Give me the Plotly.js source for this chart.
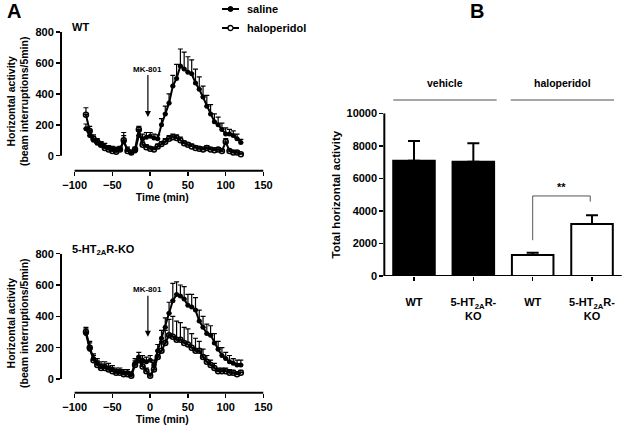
<!DOCTYPE html>
<html><head><meta charset="utf-8">
<script src="https://cdn.plot.ly/plotly-3.0.1.min.js"></script>
<style>html,body{margin:0;padding:0;background:#fff}#c{width:629px;height:433px}</style>
</head><body><div id="c"></div>
<script>
const time = [-85,-80,-75,-70,-65,-60,-55,-50,-45,-40,-35,-30,-25,-20,-15,-10,-5,0,5,10,15,20,25,30,35,40,45,50,55,60,65,70,75,80,85,90,95,100,105,110,115,120];

const wtSaline = [175,130,100,80,70,60,50,45,40,45,90,40,20,30,130,110,120,125,115,110,200,270,340,450,500,580,560,540,530,470,430,380,320,270,220,200,170,140,140,130,110,85];
const wtSalineErr = [30,30,25,20,20,20,15,15,15,15,40,15,10,15,30,30,30,25,25,25,40,50,60,70,90,110,110,100,90,90,80,70,70,60,50,50,40,40,30,30,30,20];
const wtHalo = [265,160,110,90,70,50,40,30,25,40,100,30,20,40,170,70,55,45,40,60,75,90,110,120,115,100,80,70,60,50,45,40,50,40,35,40,30,90,30,20,20,10];
const wtHaloErr = [45,30,25,20,20,15,15,10,10,15,50,10,10,15,20,20,15,10,10,15,15,20,20,20,20,20,15,15,15,15,10,10,15,10,10,10,10,20,10,10,10,5];

const koSaline = [290,190,130,100,80,80,70,60,50,50,40,40,30,100,140,120,110,120,90,180,260,330,420,500,540,530,510,470,460,440,370,330,290,280,230,190,150,130,110,100,90,90];
const koSalineErr = [30,40,30,30,30,30,30,25,20,20,20,20,15,30,30,30,30,30,30,40,50,60,70,110,80,70,80,70,80,80,70,70,60,60,60,50,50,40,40,30,30,30];
const koHalo = [300,200,120,90,70,70,60,50,40,40,30,30,20,90,120,80,50,20,60,140,180,230,280,270,250,250,230,220,200,180,180,140,110,90,70,50,50,50,40,40,30,40];
const koHaloErr = [30,40,30,25,25,25,20,20,20,20,15,15,15,25,25,25,20,15,20,40,60,80,100,130,120,110,100,100,90,80,60,50,40,30,30,20,20,20,20,15,15,15];

const seriesNames = ["saline", "haloperidol"];
const barCats = ["WT", "5-HT<sub>2A</sub>R-<br>KO", "WT", "5-HT<sub>2A</sub>R-<br>KO"];
const barVals = [7090, 7030, 1290, 3200];
const barErr = [1210, 1130, 140, 530];
const groups = ["vehicle", "haloperidol"];
const barTicks = [0, 2000, 4000, 6000, 8000, 10000];

const F = {family: "Liberation Sans, Arial, sans-serif", color: "#000", weight: "bold"};
const f = (s) => Object.assign({}, F, {size: s});

function line(x, y, err, filled, xa, ya, name) {
  return {
    x: x, y: y, xaxis: xa, yaxis: ya, type: "scatter", mode: "lines+markers",
    name: name, showlegend: false,
    line: {color: "#000", width: 2},
    marker: filled ? {symbol: "circle", size: 5, color: "#000"} :
                     {symbol: "circle-open", size: 5, color: "#000", line: {width: 1.5, color: "#000"}},
    error_y: {type: "data", symmetric: false, array: err, arrayminus: err.map(() => 0), color: "#000", thickness: 1.2, width: 2.5}
  };
}

const xIdx = barCats.map((_, i) => i);
const traces = [
  line(time, wtSaline, wtSalineErr, true, "x", "y", seriesNames[0]),
  line(time, wtHalo, wtHaloErr, false, "x", "y", seriesNames[1]),
  line(time, koSaline, koSalineErr, true, "x2", "y2", seriesNames[0]),
  line(time, koHalo, koHaloErr, false, "x2", "y2", seriesNames[1]),
  {
    x: xIdx, y: barVals, type: "bar", xaxis: "x3", yaxis: "y3", showlegend: false, width: 0.7,
    marker: {color: ["#000", "#000", "#fff", "#fff"], line: {color: "#000", width: 2}},
    error_y: {type: "data", symmetric: false, array: barErr, arrayminus: [0,0,0,0], color: "#000", thickness: 2, width: 6}
  }
];

const axX = (dom, anchor) => ({domain: dom, anchor: anchor, range: [-118, 150], tickvals: [-100,-50,0,50,100,150],
  ticks: "outside", ticklen: 4, tickwidth: 1.5, tickcolor: "#000", showline: false, showgrid: false, zeroline: false,
  tickfont: f(11), title: {text: "Time (min)", font: f(10.5), standoff: 3}});
const axY = (dom, anchor, lo) => ({domain: dom, anchor: anchor, range: [lo, 800], tickvals: [0,200,400,600,800],
  ticks: "outside", ticklen: 4, tickwidth: 1.5, tickcolor: "#000", showline: false, showgrid: false, zeroline: false,
  tickfont: f(11), title: {text: "Horizontal activity<br>(beam interruptions/5min)", font: f(10.5), standoff: 4}});

const H = 433, W = 629;
const shapes = [
  {type: "line", xref: "x", yref: "paper", x0: -100, x1: 150, y0: 0.6058, y1: 0.6058, line: {color: "#000", width: 2}},
  {type: "line", xref: "paper", yref: "y", x0: 0.0970, x1: 0.0970, y0: 0, y1: 800, line: {color: "#000", width: 2}},
  {type: "line", xref: "x2", yref: "paper", x0: -100, x1: 150, y0: 0.0931, y1: 0.0931, line: {color: "#000", width: 2}},
  {type: "line", xref: "paper", yref: "y2", x0: 0.0970, x1: 0.0970, y0: 0, y1: 800, line: {color: "#000", width: 2}},
  {type: "line", xref: "paper", yref: "y3", x0: 0.611, x1: 0.9884, y0: 0, y1: 0, line: {color: "#000", width: 2}},
  {type: "line", xref: "paper", yref: "y3", x0: 0.611, x1: 0.611, y0: 0, y1: 10000, line: {color: "#000", width: 2}},
  {type: "line", xref: "paper", yref: "paper", x0: 393.3/W, x1: 496.7/W, y0: 0.769, y1: 0.769, line: {color: "#888", width: 1.5}},
  {type: "line", xref: "paper", yref: "paper", x0: 510.7/W, x1: 614/W, y0: 0.769, y1: 0.769, line: {color: "#888", width: 1.5}},
  {type: "path", xref: "x3", yref: "y3", path: "M 2 2200 L 2 4920 L 2.97 4920 L 2.97 4570", line: {color: "#555", width: 1}},
  // legend symbols
  {type: "line", xref: "paper", yref: "paper", x0: 222/W, x1: 239/W, y0: 1 - 9/H, y1: 1 - 9/H, line: {color: "#000", width: 2}},
  {type: "circle", xref: "paper", yref: "paper", x0: 228/W, x1: 233/W, y0: 1 - 11.5/H, y1: 1 - 6.5/H, fillcolor: "#000", line: {color: "#000", width: 1}},
  {type: "line", xref: "paper", yref: "paper", x0: 222/W, x1: 239/W, y0: 1 - 28/H, y1: 1 - 28/H, line: {color: "#000", width: 2}},
  {type: "circle", xref: "paper", yref: "paper", x0: 228/W, x1: 233/W, y0: 1 - 30.5/H, y1: 1 - 25.5/H, fillcolor: "#fff", line: {color: "#000", width: 1.3}}
];

const annotations = [
  {text: "A", xref: "paper", yref: "paper", x: 5/W, y: 1.005, xanchor: "left", yanchor: "top", showarrow: false, font: f(20)},
  {text: "B", xref: "paper", yref: "paper", x: 468/W, y: 1.005, xanchor: "left", yanchor: "top", showarrow: false, font: f(20)},
  {text: seriesNames[0], xref: "paper", yref: "paper", x: 245/W, y: 1 - 9/H, xanchor: "left", yanchor: "middle", showarrow: false, font: f(11)},
  {text: seriesNames[1], xref: "paper", yref: "paper", x: 245/W, y: 1 - 28/H, xanchor: "left", yanchor: "middle", showarrow: false, font: f(11)},
  {text: "WT", xref: "paper", yref: "paper", x: 70/W, y: 1 - 27/H, xanchor: "left", yanchor: "middle", showarrow: false, font: f(11)},
  {text: "5-HT<sub>2A</sub>R-KO", xref: "paper", yref: "paper", x: 70/W, y: 1 - 250/H, xanchor: "left", yanchor: "middle", showarrow: false, font: f(11)},
  {text: "MK-801", xref: "x", yref: "y", x: -3, y: 250, ax: 0, ay: -48, showarrow: true, arrowhead: 2, arrowsize: 1, arrowwidth: 1.2, arrowcolor: "#000", font: f(8), standoff: 0},
  {text: "MK-801", xref: "x2", yref: "y2", x: -3, y: 270, ax: 0, ay: -47, showarrow: true, arrowhead: 2, arrowsize: 1, arrowwidth: 1.2, arrowcolor: "#000", font: f(8), standoff: 0},
  {text: groups[0], xref: "paper", yref: "paper", x: 445/W, y: 1 - 83/H, xanchor: "center", yanchor: "middle", showarrow: false, font: f(10.5)},
  {text: groups[1], xref: "paper", yref: "paper", x: 562/W, y: 1 - 83/H, xanchor: "center", yanchor: "middle", showarrow: false, font: f(10.5)},
  {text: "**", xref: "x3", yref: "y3", x: 2.48, y: 5500, showarrow: false, font: f(11)}
];

const layout = {
  width: W, height: H, margin: {l: 0, r: 0, t: 0, b: 0},
  paper_bgcolor: "#fff", plot_bgcolor: "rgba(0,0,0,0)",
  font: f(10),
  showlegend: false,
  xaxis: axX([0.0970, 0.4189], "y"),
  yaxis: axY([0.6058, 0.9261], "x", -97),
  xaxis2: axX([0.0970, 0.4189], "y2"),
  yaxis2: axY([0.0931, 0.4141], "x2", -87.5),
  xaxis3: {domain: [0.611, 0.9884], anchor: "y3", range: [-0.5, 3.5], tickvals: xIdx, ticktext: barCats,
    ticks: "outside", ticklen: 4, tickwidth: 1.5, tickcolor: "#000", showline: false, showgrid: false, zeroline: false,
    tickfont: f(11), ticklabelstandoff: 12},
  yaxis3: {domain: [0.3626, 0.7383], anchor: "x3", range: [0, 10000], tickvals: barTicks, ticktext: barTicks.map(String),
    ticks: "outside", ticklen: 4, tickwidth: 1.5, tickcolor: "#000", showline: false, showgrid: false, zeroline: false,
    tickfont: f(11), title: {text: "Total horizontal activity", font: f(11.5), standoff: 3}},
  shapes: shapes,
  annotations: annotations
};

Plotly.newPlot("c", traces, layout, {staticPlot: true, displayModeBar: false});
</script></body></html>
